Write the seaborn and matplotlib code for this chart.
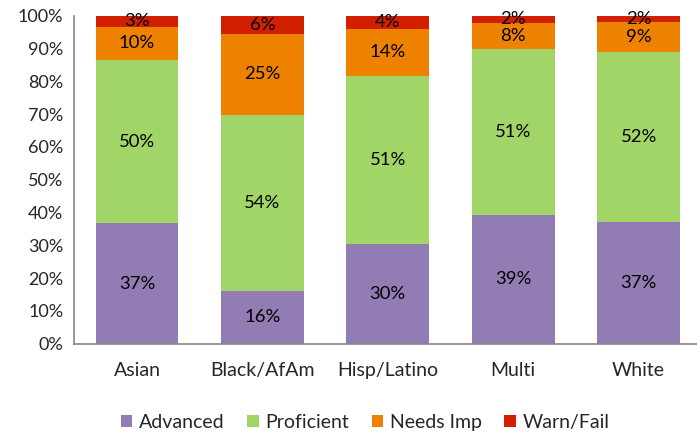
import matplotlib
matplotlib.use("Agg")
import matplotlib.pyplot as plt
from matplotlib.patches import Patch
import seaborn as sns
import pandas as pd
import numpy as np

groups = ["Asian", "Black/AfAm", "Hisp/Latino", "Multi", "White"]
levels = ["Advanced", "Proficient", "Needs Imp", "Warn/Fail"]
advanced = [36.7, 16.0, 30.4, 39.2, 37.2]
proficient = [49.8, 53.8, 51.3, 50.6, 51.7]
needs_imp = [10.1, 24.6, 14.2, 8.1, 9.3]
warn_fail = [3.4, 5.6, 4.1, 2.1, 1.8]
colors = ["#917CB3", "#A2D568", "#EE8100", "#D11F00"]

sns.set_theme(style="white")
plt.rcParams["font.family"] = ["Lato", "DejaVu Sans"]

df = pd.DataFrame({"group": groups, "Advanced": advanced, "Proficient": proficient,
                   "Needs Imp": needs_imp, "Warn/Fail": warn_fail})
cum = df[levels].cumsum(axis=1)

fig = plt.figure(figsize=(6.97, 4.33), dpi=100)
ax = fig.add_axes([0.1066, 0.2062, 0.8996, 0.7575])

# draw cumulative totals from the top series down so they stack
for lvl, col in reversed(list(zip(levels, colors))):
    sns.barplot(x=df["group"], y=cum[lvl], color=col, width=0.66, ax=ax,
                saturation=1, edgecolor="none")

for i in range(len(groups)):
    base = 0
    for lvl in levels:
        v = df.loc[i, lvl]
        ax.text(i, base + v / 2, f"{v:.0f}%", ha="center", va="center",
                fontsize=13.3, color="black")
        base += v

ax.set_xlim(-0.5, 4.5)
ax.set_ylim(0, 100)
ax.set_yticks(np.arange(0, 101, 10))
ax.set_yticklabels([f"{t}%" for t in range(0, 101, 10)], fontsize=13)
ax.set_xticks(range(len(groups)))
ax.set_xticklabels(groups, fontsize=14)
ax.set_xticks(np.arange(-0.5, 4.6, 1), minor=True)
ax.tick_params(axis="x", which="major", length=0, pad=13)
ax.tick_params(axis="x", which="minor", length=5, color="#888888", width=1, direction="out")
ax.tick_params(axis="y", length=5, color="#888888", width=1, direction="out", pad=3)
ax.set_xlabel("")
ax.set_ylabel("")
for s in ["top", "right"]:
    ax.spines[s].set_visible(False)
for s in ["left", "bottom"]:
    ax.spines[s].set_color("#888888")
    ax.spines[s].set_linewidth(1.2)

handles = [Patch(facecolor=c, edgecolor="none", label=l) for l, c in zip(levels, colors)]
fig.legend(handles=handles, loc="center", bbox_to_anchor=(0.524, 0.024), ncol=4,
           frameon=False, fontsize=14, handlelength=0.6, handleheight=0.6,
           handletextpad=0.35, columnspacing=1.15)

fig.savefig("out.png", dpi=100)
